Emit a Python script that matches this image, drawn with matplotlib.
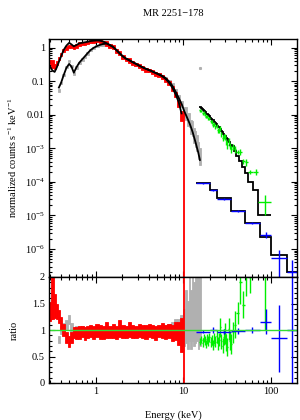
import numpy as np
import matplotlib
matplotlib.use('Agg')
import matplotlib.pyplot as plt
from matplotlib.ticker import FixedLocator, NullFormatter, MultipleLocator, LogLocator

plt.rcParams['font.family'] = ['Liberation Serif', 'DejaVu Serif']
plt.rcParams['mathtext.fontset'] = 'custom'
plt.rcParams['mathtext.rm'] = 'Liberation Serif'
plt.rcParams['mathtext.it'] = 'Liberation Serif:italic'
plt.rcParams['font.size'] = 7.5

# ---------------- data ----------------
title = "MR 2251\u2212178"

# red (soft X-ray, 0.3-10 keV) bin edges
red_edges = [0.29, 0.31, 0.33, 0.35, 0.37, 0.39, 0.415, 0.445, 0.48, 0.515, 0.545,
             0.58, 0.625, 0.675, 0.725, 0.775, 0.835, 0.91, 0.99, 1.075, 1.17,
             1.275, 1.39, 1.515, 1.65, 1.795, 1.955, 2.13, 2.32, 2.53, 2.76,
             3.01, 3.28, 3.575, 3.895, 4.245, 4.63, 5.045, 5.495, 5.99, 6.53,
             7.115, 7.755, 8.455, 9.21, 9.8, 10.2]
red_model = [0.28, 0.21, 0.19, 0.26, 0.38, 0.55, 0.85, 1.15, 1.40, 1.25,
             1.10, 1.20, 1.35, 1.40, 1.45, 1.50, 1.58, 1.62, 1.65, 1.62,
             1.52, 1.35, 1.20, 1.05, 0.85, 0.68, 0.55, 0.47, 0.42, 0.37,
             0.33, 0.29, 0.26, 0.235, 0.215, 0.195, 0.175, 0.158, 0.14, 0.118,
             0.092, 0.066, 0.042, 0.024, 0.011, 0.005]
red_ratio = [1.35, 1.60, 1.45, 1.35, 1.25, 1.12, 1.00, 0.86, 0.78, 0.86,
             0.95, 0.94, 0.95, 0.97, 0.93, 0.96, 0.98, 0.95, 0.99, 0.96,
             0.95, 1.00, 0.96, 0.98, 0.95, 1.03, 0.97, 0.96, 1.01, 0.97,
             0.96, 0.99, 0.97, 0.96, 0.99, 0.97, 0.95, 0.98, 0.99, 0.96,
             0.98, 0.95, 0.99, 0.94, 0.90, 1.00]
red_err = [0.18, 0.40, 0.22, 0.15, 0.12, 0.12, 0.11, 0.11, 0.10, 0.10,
           0.11, 0.11, 0.12, 0.11, 0.12, 0.12, 0.11, 0.12, 0.12, 0.13,
           0.12, 0.15, 0.12, 0.13, 0.12, 0.16, 0.13, 0.12, 0.15, 0.13,
           0.12, 0.13, 0.12, 0.13, 0.12, 0.13, 0.13, 0.12, 0.14, 0.13,
           0.14, 0.15, 0.17, 0.22, 0.32, 1.20]

# gray (second soft instrument, 0.37-15.8 keV)
gray_edges = [0.37, 0.39, 0.415, 0.445, 0.48, 0.515, 0.545, 0.58, 0.625, 0.675,
              0.725, 0.775, 0.835, 0.91, 0.99, 1.075, 1.17, 1.275, 1.39, 1.515,
              1.65, 1.795, 1.955, 2.13, 2.32, 2.53, 2.76, 3.01, 3.28, 3.575,
              3.895, 4.245, 4.63, 5.045, 5.495, 5.99, 6.53, 7.115, 7.755, 8.455,
              9.21, 10.0, 10.5, 11.0, 11.5, 12.0, 12.5, 13.0, 13.5, 14.0,
              14.5, 15.0, 15.8]
gray_model = [0.065, 0.09, 0.15, 0.25, 0.33, 0.27, 0.18, 0.26, 0.36, 0.45,
              0.55, 0.68, 0.85, 1.00, 1.12, 1.22, 1.30, 1.33, 1.20, 1.05,
              0.85, 0.68, 0.55, 0.47, 0.42, 0.37, 0.33, 0.29, 0.26, 0.235,
              0.215, 0.195, 0.177, 0.16, 0.145, 0.125, 0.10, 0.075, 0.05, 0.032,
              0.020, 0.0125, 0.0095, 0.0072, 0.0055, 0.0041, 0.0030, 0.0021, 0.0015, 0.00105,
              0.00075, 0.00045]
gray_ratio = [0.82, 1.00, 1.05, 1.10, 1.20, 1.05, 0.95, 1.00, 0.98, 0.99,
              0.97, 0.98, 1.00, 0.97, 0.99, 0.98, 0.97, 1.00, 0.98, 0.99,
              0.97, 1.01, 0.98, 0.99, 1.00, 0.98, 0.97, 0.99, 0.98, 1.00,
              0.98, 0.99, 0.97, 0.99, 0.98, 1.00, 1.02, 1.04, 1.06, 1.05,
              1.08, 1.05, 1.25, 1.10, 1.40, 1.20, 1.50, 1.30, 1.45, 1.60,
              1.35, 1.50]
gray_err = [0.06, 0.08, 0.08, 0.08, 0.08, 0.08, 0.08, 0.08, 0.08, 0.08,
            0.08, 0.08, 0.08, 0.08, 0.08, 0.08, 0.08, 0.08, 0.08, 0.08,
            0.08, 0.08, 0.08, 0.08, 0.08, 0.08, 0.08, 0.08, 0.08, 0.08,
            0.08, 0.08, 0.08, 0.09, 0.09, 0.10, 0.10, 0.12, 0.14, 0.16,
            0.20, 0.35, 0.50, 0.45, 0.60, 0.55, 0.70, 0.60, 0.70, 0.80,
            0.70, 0.80]
gray_outlier_E = [15.3]
gray_outlier_F = [0.25]

# green (hard X-ray, 15-100 keV)
green_edges = [15.2, 15.75, 16.25, 16.75, 17.25, 17.75, 18.3, 18.9, 19.5, 20.1,
               20.7, 21.35, 22.05, 22.75, 23.45, 24.2, 25.0, 25.8, 26.6, 27.45,
               28.35, 29.25, 30.15, 31.1, 32.1, 33.15, 34.25, 35.4, 37.2, 40.0,
               43.0, 46.2, 50.0, 54.2, 62.0, 71.6, 100.0]
green_model = [0.0175, 0.016, 0.0148, 0.0137, 0.0127, 0.0118, 0.0108, 0.0099, 0.0091, 0.0083,
               0.0076, 0.0069, 0.0063, 0.0057, 0.0052, 0.0047, 0.0042, 0.0038, 0.0034, 0.0030,
               0.0027, 0.0024, 0.0021, 0.0019, 0.0017, 0.0015, 0.0013, 0.00115, 0.00085, 0.0006,
               0.00042, 0.00028, 0.00018, 0.0001, 5.6e-5, 1.0e-5]
green_ratio = [0.78, 0.82, 0.76, 0.85, 0.80, 0.74, 0.83, 0.79, 0.86, 0.77,
               0.81, 0.72, 0.84, 0.78, 0.88, 0.75, 0.82, 1.05, 0.79, 0.70,
               0.86, 0.93, 0.76, 0.68, 1.02, 0.80, 0.74, 0.96, 1.10, 1.32,
               1.90, 1.48, 2.20, 2.00, 3.60, 2.50]
green_err = [0.07, 0.07, 0.08, 0.08, 0.08, 0.08, 0.09, 0.09, 0.09, 0.10,
             0.10, 0.10, 0.11, 0.11, 0.12, 0.12, 0.13, 0.18, 0.14, 0.14,
             0.15, 0.20, 0.16, 0.17, 0.20, 0.18, 0.19, 0.20, 0.25, 0.20,
             0.40, 0.25, 0.55, 0.30, 0.80, 1.50]

# blue (BAT 8 bands)
blue_edges = [14, 20, 24, 35, 50, 75, 100, 150, 195]
blue_model = [9.4e-5, 5.6e-5, 3.2e-5, 1.4e-5, 6.1e-6, 2.3e-6, 6.5e-7, 2.1e-7]
blue_ratio = [0.97, 1.00, 0.97, 0.98, 1.00, 1.16, 0.84, 1.00]
blue_err = [0.03, 0.05, 0.05, 0.05, 0.06, 0.24, 0.63, 1.30]

ytick_vals = [1e-6, 1e-5, 1e-4, 1e-3, 0.01, 0.1, 1]
ytick_labels = ['10$^{\u22126}$', '10$^{\u22125}$', '10$^{\u22124}$', '10$^{\u22123}$', '0.01', '0.1', '1']
xtick_vals = [1, 10, 100]
xtick_labels = ['1', '10', '100']

# ---------------- figure ----------------
fig = plt.figure(figsize=(3.0, 4.2), dpi=100)
L, R = 49 / 300, 297 / 300
ax1 = fig.add_axes([L, 1 - 277 / 420, R - L, (277 - 39) / 420])
ax2 = fig.add_axes([L, 1 - 383 / 420, R - L, (383 - 277) / 420])


def prep(edges, model, ratio, err):
    e = np.array(edges, float)
    c = np.sqrt(e[:-1] * e[1:])
    m = np.array(model, float)
    r = np.array(ratio, float)
    s = np.array(err, float)
    lo = np.clip(r - s, 1e-6, None)
    hi = r + s
    return e, c, m, r, s, lo, hi


def draw_cross(edges, model, ratio, err, color, lw=1.0, z=2):
    e, c, m, r, s, lo, hi = prep(edges, model, ratio, err)
    xe = [c - e[:-1], e[1:] - c]
    ax1.errorbar(c, m * r, yerr=[m * (r - lo), m * (hi - r)], xerr=xe,
                 fmt='none', ecolor=color, elinewidth=lw, capsize=0, zorder=z)
    ax2.errorbar(c, r, yerr=s, xerr=xe, fmt='none', ecolor=color,
                 elinewidth=lw, capsize=0, zorder=z)
    return c, m


def draw_band(edges, model, ratio, err, color, z=2):
    e, c, m, r, s, lo, hi = prep(edges, model, ratio, err)
    w = e[1:] - e[:-1]
    kw = dict(width=w, align='edge', color=color, edgecolor=color,
              linewidth=0.6, zorder=z)
    ax1.bar(e[:-1], m * (hi - lo), bottom=m * lo, **kw)
    ax2.bar(e[:-1], hi - lo, bottom=lo, **kw)
    return c, m


gc, gm = draw_band(gray_edges, gray_model, gray_ratio, gray_err, '#b0b0b0', 2)
ax1.plot(gray_outlier_E, gray_outlier_F, 's', ms=1.2, color='#b0b0b0', zorder=2)
rc, rm = draw_band(red_edges, red_model, red_ratio, red_err, '#ff0000', 3)
ax1.plot(gc, gm, color='black', lw=1.3, zorder=4)
ax1.plot(rc[:-1], rm[:-1], color='black', lw=1.3, zorder=4)
draw_cross(green_edges, green_model, green_ratio, green_err, '#00ee00', 1.0, 5)
ax1.stairs(green_model, green_edges, color='black', lw=1.3, zorder=4, baseline=None)
draw_cross(blue_edges, blue_model, blue_ratio, blue_err, '#0000ff', 1.0, 5)
ax1.stairs(blue_model, blue_edges, color='black', lw=1.3, zorder=4, baseline=None)

ax2.axhline(1.0, color='#33dd33', lw=1.0, zorder=6)

for ax in (ax1, ax2):
    ax.set_xscale('log')
    ax.set_xlim(0.293, 197)
    ax.tick_params(which='both', direction='in', top=True, right=True, width=0.8)
    ax.tick_params(which='major', length=4.5, pad=3)
    ax.tick_params(which='minor', length=2.3)
    ax.xaxis.set_minor_locator(LogLocator(base=10, subs=np.arange(2, 10)))
    ax.xaxis.set_minor_formatter(NullFormatter())
    for sp in ax.spines.values():
        sp.set_linewidth(1.0)
        sp.set_zorder(10)

ax1.set_yscale('log')
ax1.set_ylim(1.46e-7, 1.82)
ax1.yaxis.set_major_locator(FixedLocator(ytick_vals))
ax1.set_yticklabels(ytick_labels)
ax1.yaxis.set_minor_locator(LogLocator(base=10, subs=np.arange(2, 10), numticks=20))
ax1.yaxis.set_minor_formatter(NullFormatter())
ax1.xaxis.set_major_formatter(NullFormatter())
ax1.set_ylabel('normalized counts s$^{\u22121}$ keV$^{\u22121}$')
fig.text((L + R) / 2, 1 - 13 / 420, title, ha='center', va='center')

ax2.set_ylim(0, 2)
ax2.yaxis.set_major_locator(FixedLocator([0, 0.5, 1, 1.5, 2]))
ax2.set_yticklabels(['0', '0.5', '1', '1.5', '2'])
ax2.yaxis.set_minor_locator(MultipleLocator(0.1))
ax2.xaxis.set_major_locator(FixedLocator(xtick_vals))
ax2.set_xticklabels(xtick_labels)
ax2.set_ylabel('ratio')
ax2.set_xlabel('Energy (keV)', labelpad=10)
ax1.yaxis.set_label_coords(-0.12, 0.5)
ax2.yaxis.set_label_coords(-0.12, 0.5)

fig.savefig('out.png', dpi=100)
